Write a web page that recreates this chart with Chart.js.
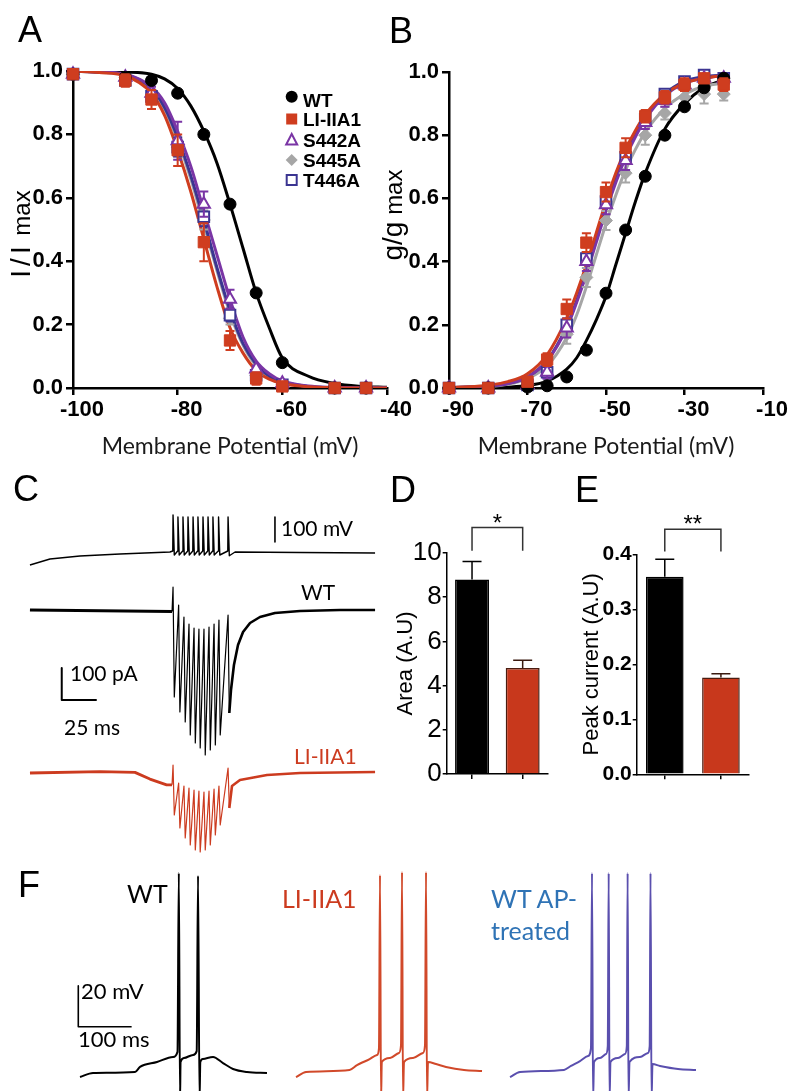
<!DOCTYPE html>
<html>
<head>
<meta charset="utf-8">
<script src="https://cdn.jsdelivr.net/npm/chart.js@4.4.1/dist/chart.umd.min.js"></script>
<style>
body { margin: 0; background: #fff; }
#fig { position: relative; width: 796px; height: 1091px; overflow: hidden; background: #fff; }
canvas { position: absolute; }
.t { position: absolute; white-space: nowrap; line-height: 1; }
.ar { font-family: 'Liberation Sans', Arial, sans-serif; }
.ca { font-family: Lato, sans-serif; }
.rot { transform: translate(-50%, -50%) rotate(-90deg); }
</style>
</head>
<body>
<div id="fig">
  <canvas id="cA" width="420" height="470" style="left:0;top:0"></canvas>
  <canvas id="cB" width="420" height="470" style="left:376px;top:0"></canvas>
  <canvas id="cC" width="400" height="360" style="left:0;top:500px"></canvas>
  <canvas id="cD" width="180" height="300" style="left:380px;top:500px"></canvas>
  <canvas id="cE" width="200" height="300" style="left:570px;top:500px"></canvas>
  <canvas id="cF" width="796" height="231" style="left:0;top:860px"></canvas>

  <div class="t ar" style="left:18px;top:12px;font-size:36px">A</div>
  <div class="t ar" style="left:389px;top:13px;font-size:36px">B</div>
  <div class="t ar" style="left:13px;top:471px;font-size:36px">C</div>
  <div class="t ar" style="left:390px;top:472px;font-size:36px">D</div>
  <div class="t ar" style="left:575px;top:472px;font-size:36px">E</div>
  <div class="t ar" style="left:18px;top:867px;font-size:36px">F</div>

  <div class="t ar rot" style="left:21px;top:234px"><span style="font-size:28px;letter-spacing:4px">I/I</span><span style="font-size:24px"> max</span></div>
  <div class="t ar rot" style="left:393px;top:215px"><span style="font-size:28px">g/g</span><span style="font-size:24px"> max</span></div>

  <div class="t ca" style="left:281px;top:517px;font-size:21px">100 mV</div>
  <div class="t ca" style="left:301px;top:581px;font-size:21px">WT</div>
  <div class="t ca" style="left:70px;top:662px;font-size:21px">100 pA</div>
  <div class="t ca" style="left:64px;top:716px;font-size:21px">25 ms</div>
  <div class="t ca" style="left:294px;top:745px;font-size:21px;color:#cc3b1f">LI-IIA1</div>

  <div class="t ca" style="left:127px;top:881px;font-size:25px">WT</div>
  <div class="t ca" style="left:282px;top:886px;font-size:25px;color:#cc3b1f">LI-IIA1</div>
  <div class="t ca" style="left:491px;top:886px;font-size:25px;color:#2f73b5">WT AP-</div>
  <div class="t ca" style="left:491px;top:918px;font-size:25px;color:#2f73b5">treated</div>
  <div class="t ca" style="left:81px;top:980px;font-size:22px">20 mV</div>
  <div class="t ca" style="left:78px;top:1028px;font-size:22px">100 ms</div>
</div>
<script>
// ---- panel A: steady-state inactivation (I/Imax) ----
const vA = [-100, -90, -85, -80, -75, -70, -65, -60, -50, -44];
const wtA = [0.99, 0.98, 0.97, 0.93, 0.80, 0.58, 0.30, 0.08, 0.00, 0.00];
const liA = [0.99, 0.97, 0.91, 0.75, 0.46, 0.15, 0.03, 0.005, 0.0, 0.0];
const s442A = [0.99, 0.98, 0.93, 0.78, 0.58, 0.28, 0.06, 0.015, 0.0, 0.0];
const s445A = [0.99, 0.97, 0.92, 0.76, 0.53, 0.22, 0.04, 0.01, 0.0, 0.0];
const t446A = [0.99, 0.97, 0.92, 0.76, 0.54, 0.23, 0.04, 0.01, 0.0, 0.0];
const liAerr = [0.01, 0.02, 0.03, 0.05, 0.06, 0.03, 0.02, 0.01, 0, 0];
const s442Aerr = [0.01, 0.01, 0.02, 0.06, 0.04, 0.03, 0.01, 0.01, 0, 0];
const s445Aerr = [0.01, 0.01, 0.02, 0.03, 0.03, 0.02, 0.01, 0, 0, 0];
const t446Aerr = [0.01, 0.01, 0.02, 0.03, 0.03, 0.02, 0.01, 0, 0, 0];
// fitted curves
const fitVA = [-100, -95, -90, -85, -82.5, -80, -77.5, -75, -72.5, -70, -67.5, -65, -62.5, -60, -55, -50, -45, -40];
const wtFitA = [1.0, 0.999, 0.997, 0.99, 0.975, 0.945, 0.89, 0.81, 0.71, 0.58, 0.44, 0.30, 0.19, 0.095, 0.037, 0.014, 0.005, 0.002];
const liFitA = [1.0, 0.995, 0.985, 0.93, 0.86, 0.75, 0.62, 0.47, 0.32, 0.19, 0.11, 0.055, 0.028, 0.014, 0.004, 0.001, 0, 0];
const s442FitA = [1.0, 0.997, 0.99, 0.95, 0.90, 0.81, 0.70, 0.56, 0.42, 0.28, 0.16, 0.085, 0.045, 0.022, 0.006, 0.002, 0, 0];
const s445FitA = [1.0, 0.996, 0.987, 0.94, 0.88, 0.78, 0.66, 0.515, 0.37, 0.235, 0.135, 0.07, 0.035, 0.018, 0.005, 0.001, 0, 0];
const t446FitA = [1.0, 0.996, 0.988, 0.945, 0.885, 0.79, 0.67, 0.53, 0.38, 0.245, 0.14, 0.075, 0.037, 0.019, 0.005, 0.001, 0, 0];

// ---- panel B: activation (g/gmax) ----
const vB = [-90, -80, -70, -65, -60, -55, -50, -45, -40, -35, -30, -25, -20];
const wtB = [0.0, 0.0, 0.003, 0.007, 0.035, 0.12, 0.30, 0.50, 0.67, 0.80, 0.89, 0.95, 0.98];
const liB = [0.0, 0.0, 0.02, 0.09, 0.25, 0.46, 0.62, 0.76, 0.86, 0.92, 0.96, 0.98, 0.96];
const s442B = [0.0, 0.0, 0.01, 0.05, 0.19, 0.40, 0.58, 0.72, 0.84, 0.91, 0.96, 0.98, 0.98];
const s445B = [0.0, 0.0, 0.01, 0.04, 0.17, 0.35, 0.53, 0.68, 0.80, 0.87, 0.92, 0.93, 0.93];
const t446B = [0.0, 0.0, 0.01, 0.05, 0.20, 0.41, 0.59, 0.73, 0.85, 0.93, 0.97, 0.99, 0.98];
const liBerr = [0, 0, 0.01, 0.02, 0.03, 0.03, 0.03, 0.03, 0.02, 0.02, 0.02, 0.01, 0.02];
const s442Berr = [0, 0, 0.01, 0.02, 0.03, 0.03, 0.03, 0.03, 0.02, 0.02, 0.01, 0.01, 0.01];
const s445Berr = [0, 0, 0.01, 0.02, 0.03, 0.03, 0.03, 0.03, 0.03, 0.02, 0.02, 0.03, 0.02];
const t446Berr = [0, 0, 0.01, 0.02, 0.02, 0.02, 0.02, 0.02, 0.02, 0.01, 0.01, 0.01, 0.01];
const fitVB = [-90, -85, -80, -75, -70, -65, -60, -57.5, -55, -52.5, -50, -47.5, -45, -42.5, -40, -35, -30, -25, -20];
const wtFitB = [0, 0, 0.001, 0.003, 0.008, 0.022, 0.06, 0.095, 0.15, 0.215, 0.29, 0.39, 0.49, 0.59, 0.68, 0.82, 0.90, 0.95, 0.975];
const liFitB = [0.002, 0.004, 0.009, 0.02, 0.045, 0.105, 0.22, 0.30, 0.39, 0.49, 0.59, 0.68, 0.755, 0.815, 0.865, 0.93, 0.965, 0.98, 0.99];
const s442FitB = [0.001, 0.003, 0.006, 0.014, 0.035, 0.085, 0.19, 0.27, 0.36, 0.46, 0.56, 0.65, 0.73, 0.795, 0.85, 0.925, 0.965, 0.98, 0.99];
const s445FitB = [0.001, 0.003, 0.005, 0.012, 0.03, 0.07, 0.16, 0.23, 0.32, 0.42, 0.52, 0.61, 0.69, 0.755, 0.81, 0.885, 0.93, 0.955, 0.965];
const t446FitB = [0.001, 0.003, 0.006, 0.014, 0.035, 0.087, 0.195, 0.275, 0.37, 0.47, 0.57, 0.66, 0.74, 0.80, 0.855, 0.93, 0.97, 0.985, 0.99];

// ---- panel C: command AP train (mV) and evoked currents (pA), time in ms ----
const cmdT = [21.4, 35.7, 57.1, 85.7, 121.4, 123.4, 123.6, 124.5, 126.9, 127.1, 128.0, 130.5, 130.7, 131.6, 134.1, 134.3, 135.2,
  137.7, 137.9, 138.8, 141.2, 141.4, 142.3, 144.8, 145.0, 145.9, 148.4, 148.6, 149.5, 151.9, 152.1, 153.0, 155.9, 156.1, 157.0,
  162.7, 162.9, 163.8, 167.9, 214.3, 267.9];
const cmdV = [-127, -103, -91, -83, -75, -71, 73, -87, -71, 65, -87, -71, 65, -87, -71, 65, -87,
  -71, 65, -87, -71, 65, -87, -71, 65, -87, -71, 65, -87, -71, 65, -87, -71, 65, -87,
  -71, 65, -90, -75, -77, -79];
const wtBaseT = [21.4, 122.9];
const wtBaseI = [0, -5];
const spikeT = [122.9, 123.6, 124.5, 127.6, 128.5, 131.4, 132.3, 135.0, 135.9, 138.6, 139.5, 142.1, 143.0, 145.7, 146.6,
  149.3, 150.2, 152.9, 153.8, 156.4, 157.3, 162.9, 163.8];
const wtSpikeI = [-5, 71.9, -271.9, 15.6, -318.8, -21.9, -350, -43.8, -390.6, -56.3, -415.6, -59.4, -431.3, -59.4, -453.1,
  -53.1, -437.5, -43.8, -421.9, -31.3, -390.6, -15.6, -321.9];
const wtRecT = [163.8, 165.0, 167.1, 170.0, 173.6, 178.6, 185.7, 196.4, 214.3, 242.9, 267.9];
const wtRecI = [-321.9, -250, -171.9, -109.4, -68.8, -40.6, -21.9, -9.4, -3.1, 0, 0];
const liBaseT = [21.4, 71.4, 96.4, 107.1, 119.0, 122.9];
const liBaseI = [0, 4, 2, -19, -37, -37];
const liSpikeI = [-37, 25, -131.3, -31.3, -171.9, -40.6, -203.1, -46.9, -225, -53.1, -240.6, -56.3, -246.9, -59.4, -240.6,
  -56.3, -225, -50, -193.8, -40.6, -162.5, 15.6, -109.4];
const liRecT = [163.8, 165.7, 171.4, 190.7, 214.3, 267.9];
const liRecI = [-109.4, -40.6, -21.9, -6.3, 0, 3.1];
const barPA_T = [44.1, 44.1, 69.1];      // 100 pA / 25 ms scale bar
const barPA_I = [-181, -281, -281];
const barMV_T = [196.4, 196.4];          // 100 mV scale bar
const barMV_V = [65, -35];

// ---- panels D, E ----
const groups = ['WT', 'LI-IIA1'];
const areaVals = [8.8, 4.8];
const areaErr = [0.82, 0.35];
const peakVals = [0.359, 0.176];
const peakErr = [0.032, 0.007];

// ---- panel F: current-clamp firing, time ms, voltage mV ----
const fWtT = [150, 174.4, 253.1, 262.5, 294.4, 324.4, 332.8, 335.3, 337.5, 338.6, 345, 361.9, 368.8, 371.3, 374.1, 375.6,
  380.6, 399.4, 418.1, 436.9, 463.1, 500.6];
const fWtV = [-72.5, -70.5, -70, -67.5, -65.1, -62.6, -60.1, 28, -83.8, -65.1, -63.1, -61.6, -59.7, 26.6, -83.8, -65.1,
  -63.6, -62.6, -65.6, -68.5, -70, -70.5];
const fLiT = [555, 573.8, 655.3, 669.4, 690, 706.9, 710.6, 712.5, 714.4, 715.9, 731.3, 748.1, 751.9, 753.8, 755.6, 757.5,
  774.4, 793.1, 796.9, 798.8, 800.6, 802.5, 817.5, 836.3, 870, 903.8];
const fLiV = [-72.5, -70, -69, -66.6, -64.1, -61.6, -58.2, 27, -83.8, -65.1, -63.1, -60.6, -56.7, 28.5, -83.8, -65.1,
  -63.1, -60.6, -56.7, 28.5, -83.8, -65.1, -66.1, -67.5, -69, -69.5];
const fApT = [956.3, 975, 1057.5, 1070.6, 1087.5, 1102.5, 1108.1, 1110, 1111.9, 1113.8, 1125, 1136.3, 1139.6, 1141.3,
  1142.8, 1144.7, 1158.8, 1171.9, 1175.3, 1176.8, 1178.4, 1180.3, 1200, 1215, 1218.2, 1219.7, 1221.6, 1223.4, 1237.5,
  1271.3, 1305];
const fApV = [-72.5, -70, -69, -67, -64.6, -62.1, -58.2, 28, -83.8, -65.1, -63.1, -61.1, -57.2, 28, -83.8, -65.1, -63.1,
  -61.1, -57.2, 28, -83.8, -65.1, -62.6, -60.6, -57.2, 28, -83.8, -66.1, -67, -68.5, -69];
const fBarT = [146.8, 146.8, 246.8];     // 20 mV / 100 ms scale bar
const fBarV = [-27.6, -47.7, -47.7];

const FA = 'Liberation Sans';
const RED = '#cf3d1f';
const PURPLE = '#7a35a5';
const GRAY = '#a6a6a6';
const NAVY = '#3b3591';

function pts(xs, ys) { return xs.map((x, i) => ({ x: x, y: ys[i] })); }

function markers(label, xs, ys, errs, color, style, r, fill, order) {
  return { label: label, data: pts(xs, ys), errors: errs, showLine: false, pointStyle: style, pointRadius: r,
    pointBackgroundColor: fill, pointBorderColor: color, pointBorderWidth: fill === '#fff' ? 2 : 1,
    borderColor: color, order: order, clip: false };
}
function fitLine(xs, ys, color, order) {
  return { data: pts(xs, ys), showLine: true, borderColor: color, borderWidth: 3, pointRadius: 0,
    cubicInterpolationMode: 'monotone', order: order };
}
function trace(xs, ys, color, width, axis) {
  return { data: pts(xs, ys), showLine: true, borderColor: color, borderWidth: width, pointRadius: 0,
    yAxisID: axis || 'y', borderJoinStyle: 'round' };
}

// error bars drawn just before each marker set
const errorBars = {
  id: 'errorBars',
  beforeDatasetDraw(chart, args) {
    const ds = chart.data.datasets[args.index];
    if (!ds.errors) return;
    const ctx = chart.ctx, y = chart.scales.y;
    ctx.save();
    ctx.strokeStyle = ds.borderColor;
    ctx.lineWidth = 2;
    args.meta.data.forEach((p, i) => {
      const e = ds.errors[i];
      if (!e) return;
      const v = ds.data[i].y;
      const y1 = y.getPixelForValue(v + e), y2 = y.getPixelForValue(v - e);
      ctx.beginPath();
      ctx.moveTo(p.x, y1); ctx.lineTo(p.x, y2);
      ctx.moveTo(p.x - 4.5, y1); ctx.lineTo(p.x + 4.5, y1);
      ctx.moveTo(p.x - 4.5, y2); ctx.lineTo(p.x + 4.5, y2);
      ctx.stroke();
    });
    ctx.restore();
  }
};

const legendRows = ['WT', 'LI-IIA1', 'S442A', 'S445A', 'T446A'];
const legendA = {
  id: 'legendA',
  afterDraw(chart) {
    const c = chart.ctx;
    const mx = 291.7, my = [96.7, 119, 140, 160, 180], ty = [102, 121, 141.5, 161.5, 181.5];
    c.save();
    // WT circle
    c.fillStyle = '#000'; c.beginPath(); c.arc(mx, my[0], 6, 0, Math.PI * 2); c.fill();
    // LI-IIA1 filled square
    c.fillStyle = RED; c.fillRect(mx - 5.5, my[1] - 5.5, 11, 11);
    // S442A open triangle
    c.strokeStyle = PURPLE; c.lineWidth = 2; c.beginPath();
    c.moveTo(mx, my[2] - 6); c.lineTo(mx + 5.5, my[2] + 4.5); c.lineTo(mx - 5.5, my[2] + 4.5); c.closePath(); c.stroke();
    // S445A diamond
    c.fillStyle = GRAY; c.beginPath();
    c.moveTo(mx, my[3] - 6); c.lineTo(mx + 6, my[3]); c.lineTo(mx, my[3] + 6); c.lineTo(mx - 6, my[3]); c.closePath(); c.fill();
    // T446A open square
    c.strokeStyle = NAVY; c.strokeRect(mx - 5, my[4] - 5, 10, 10);
    c.fillStyle = '#000';
    c.font = 'bold 19px "Liberation Sans"';
    c.textBaseline = 'middle';
    legendRows.forEach((t, i) => c.fillText(t, 303, ty[i]));
    c.restore();
  }
};

function xAxis(min, max) {
  return { type: 'linear', min: min, max: max,
    ticks: { stepSize: 20, color: '#000', font: { family: FA, size: 22, weight: 'bold' }, labelOffset: 9, padding: 2, maxRotation: 0 },
    grid: { drawOnChartArea: false, color: '#000', lineWidth: 2.5, tickLength: 7 },
    border: { color: '#000', width: 2.5 },
    title: { display: true, text: 'Membrane Potential (mV)', color: '#1a1a1a', font: { family: 'Lato', size: 23 }, padding: { top: 0, bottom: 10 } },
    afterFit(s) { s.height = 82; } };
}
function yAxis() {
  return { min: 0, max: 1,
    ticks: { stepSize: 0.2, callback: v => v.toFixed(1), color: '#000', font: { family: FA, size: 22, weight: 'bold' }, padding: 3 },
    grid: { drawOnChartArea: false, color: '#000', lineWidth: 2.5, tickLength: 7 },
    border: { color: '#000', width: 2.5 },
    afterFit(s) { s.width = 73; } };
}
function curveOptions(xmin, xmax, padTop) {
  return { responsive: false, animation: false,
    layout: { padding: { left: 0, right: 33, top: padTop, bottom: 0 } },
    plugins: { legend: { display: false }, tooltip: { enabled: false } },
    scales: { x: xAxis(xmin, xmax), y: yAxis() } };
}

new Chart(document.getElementById('cA'), {
  type: 'scatter',
  data: { datasets: [
    markers('LI-IIA1', vA, liA, liAerr, RED, 'rect', 8, RED, 0),
    markers('WT', vA, wtA, null, '#000', 'circle', 6, '#000', 1),
    markers('S442A', vA, s442A, s442Aerr, PURPLE, 'triangle', 7, '#fff', 2),
    markers('T446A', vA, t446A, t446Aerr, NAVY, 'rect', 7.5, '#fff', 3),
    markers('S445A', vA, s445A, s445Aerr, GRAY, 'rectRot', 6.5, GRAY, 4),
    fitLine(fitVA, liFitA, RED, 10),
    fitLine(fitVA, s442FitA, PURPLE, 11),
    fitLine(fitVA, t446FitA, NAVY, 12),
    fitLine(fitVA, s445FitA, GRAY, 13),
    fitLine(fitVA, wtFitA, '#000', 14)
  ] },
  options: curveOptions(-100, -40, 71),
  plugins: [errorBars, legendA]
});

new Chart(document.getElementById('cB'), {
  type: 'scatter',
  data: { datasets: [
    markers('LI-IIA1', vB, liB, liBerr, RED, 'rect', 8, RED, 0),
    markers('WT', vB, wtB, null, '#000', 'circle', 6, '#000', 1),
    markers('S442A', vB, s442B, s442Berr, PURPLE, 'triangle', 7, '#fff', 2),
    markers('T446A', vB, t446B, t446Berr, NAVY, 'rect', 7.5, '#fff', 3),
    markers('S445A', vB, s445B, s445Berr, GRAY, 'rectRot', 6.5, GRAY, 4),
    fitLine(fitVB, liFitB, RED, 10),
    fitLine(fitVB, s442FitB, PURPLE, 11),
    fitLine(fitVB, t446FitB, NAVY, 12),
    fitLine(fitVB, s445FitB, GRAY, 13),
    fitLine(fitVB, wtFitB, '#000', 14)
  ] },
  options: curveOptions(-90, -10, 72),
  plugins: [errorBars]
});

new Chart(document.getElementById('cC'), {
  type: 'scatter',
  data: { datasets: [
    trace(cmdT, cmdV, '#000', 1.4, 'yV'),
    trace(barMV_T, barMV_V, '#000', 1.6, 'yV'),
    trace(wtBaseT, wtBaseI, '#000', 3, 'y'),
    trace(spikeT, wtSpikeI, '#000', 1.2, 'y'),
    trace(wtRecT, wtRecI, '#000', 2.6, 'y'),
    trace(barPA_T, barPA_I, '#000', 2, 'y'),
    trace(liBaseT, liBaseI, '#cc3b1f', 2.8, 'yR'),
    trace(spikeT, liSpikeI, '#cc3b1f', 1.2, 'yR'),
    trace(liRecT, liRecI, '#cc3b1f', 2.6, 'yR')
  ] },
  options: { responsive: false, animation: false,
    layout: { padding: 0 },
    plugins: { legend: { display: false }, tooltip: { enabled: false } },
    scales: {
      x: { type: 'linear', display: false, min: 0, max: 285.714 },
      yV: { display: false, min: -1307, max: 133 },
      y: { display: false, min: -781.25, max: 343.75 },
      yR: { display: false, min: -271.9, max: 853.1 }
    } }
});

// bar panels
const barErrors = {
  id: 'barErrors',
  afterDatasetsDraw(chart) {
    const ds = chart.data.datasets[0], meta = chart.getDatasetMeta(0), y = chart.scales.y, c = chart.ctx;
    c.save();
    c.lineWidth = 1.5;
    meta.data.forEach((b, i) => {
      const top = y.getPixelForValue(ds.data[i] + ds.errors[i]);
      c.strokeStyle = i === 0 ? '#000' : '#3a1a10';
      c.beginPath();
      c.moveTo(b.x, b.y); c.lineTo(b.x, top);
      c.moveTo(b.x - 9.5, top); c.lineTo(b.x + 9.5, top);
      c.stroke();
    });
    c.restore();
  }
};
const sigBracket = {
  id: 'sigBracket',
  afterDraw(chart, args, o) {
    const meta = chart.getDatasetMeta(0), y = chart.scales.y, c = chart.ctx;
    const x0 = meta.data[0].x, x1 = meta.data[1].x;
    const yt = y.getPixelForValue(o.top), yl = y.getPixelForValue(o.leg);
    c.save();
    c.strokeStyle = '#333'; c.lineWidth = 1.5;
    c.beginPath();
    c.moveTo(x0, yl); c.lineTo(x0, yt); c.lineTo(x1, yt); c.lineTo(x1, yl);
    c.stroke();
    c.fillStyle = '#000'; c.font = '24px "Liberation Sans"'; c.textAlign = 'center'; c.textBaseline = 'alphabetic';
    c.fillText(o.text, (x0 + x1) / 2, y.getPixelForValue(o.base));
    c.restore();
  }
};
function barChart(id, vals, errs, ymax, step, yfont, title, titlePad, yWidth, pad, xh, sig) {
  return new Chart(document.getElementById(id), {
    type: 'bar',
    data: { labels: groups, datasets: [{ data: vals, errors: errs,
      backgroundColor: ['#000', '#c8381c'], borderColor: ['#000', '#4a1c10'], borderWidth: 1.5,
      barPercentage: 0.67, categoryPercentage: 1 }] },
    options: { responsive: false, animation: false,
      layout: { padding: pad },
      plugins: { legend: { display: false }, tooltip: { enabled: false }, sigBracket: sig },
      scales: {
        x: { grid: { offset: false, drawOnChartArea: false, color: '#000', lineWidth: 1.5, tickLength: 5 },
          border: { color: '#000', width: 1.5 }, ticks: { callback: () => '', padding: 0 },
          afterFit(s) { s.height = xh; } },
        y: { min: 0, max: ymax,
          ticks: { stepSize: step, color: '#000', font: yfont, padding: 1,
            callback: v => step < 1 ? v.toFixed(1) : String(v) },
          grid: { drawOnChartArea: false, color: '#000', lineWidth: 1.5, tickLength: 4 },
          border: { color: '#000', width: 1.5 },
          title: { display: true, text: title, color: '#000', font: { family: FA, size: 22 }, padding: { top: titlePad, bottom: 0 } },
          afterFit(s) { s.width = yWidth; } }
      } },
    plugins: [barErrors, sigBracket]
  });
}
barChart('cD', areaVals, areaErr, 10, 2, { family: FA, size: 26 }, 'Area (A.U)', 12.8, 66.7,
  { left: 0, right: 12, top: 53, bottom: 0 }, 26, { top: 11.15, leg: 10.1, base: 10.99, text: '*' });
barChart('cE', peakVals, peakErr, 0.4, 0.1, { family: FA, size: 21, weight: 'bold' }, 'Peak current (A.U)', 8.5, 66.7,
  { left: 0, right: 21, top: 54.3, bottom: 0 }, 25.7, { top: 0.4455, leg: 0.405, base: 0.4405, text: '**' });

new Chart(document.getElementById('cF'), {
  type: 'scatter',
  data: { datasets: [
    Object.assign(trace(fWtT, fWtV, '#000', 2), { cubicInterpolationMode: 'monotone' }),
    Object.assign(trace(fLiT, fLiV, '#d1492a', 2), { cubicInterpolationMode: 'monotone' }),
    Object.assign(trace(fApT, fApV, '#5a4fae', 2), { cubicInterpolationMode: 'monotone' }),
    trace(fBarT, fBarV, '#000', 1.6)
  ] },
  options: { responsive: false, animation: false,
    layout: { padding: 0 },
    plugins: { legend: { display: false }, tooltip: { enabled: false } },
    scales: {
      x: { type: 'linear', display: false, min: 0, max: 1492.5 },
      y: { display: false, min: -79.36, max: 34.43 }
    } }
});
</script>
</body>
</html>
